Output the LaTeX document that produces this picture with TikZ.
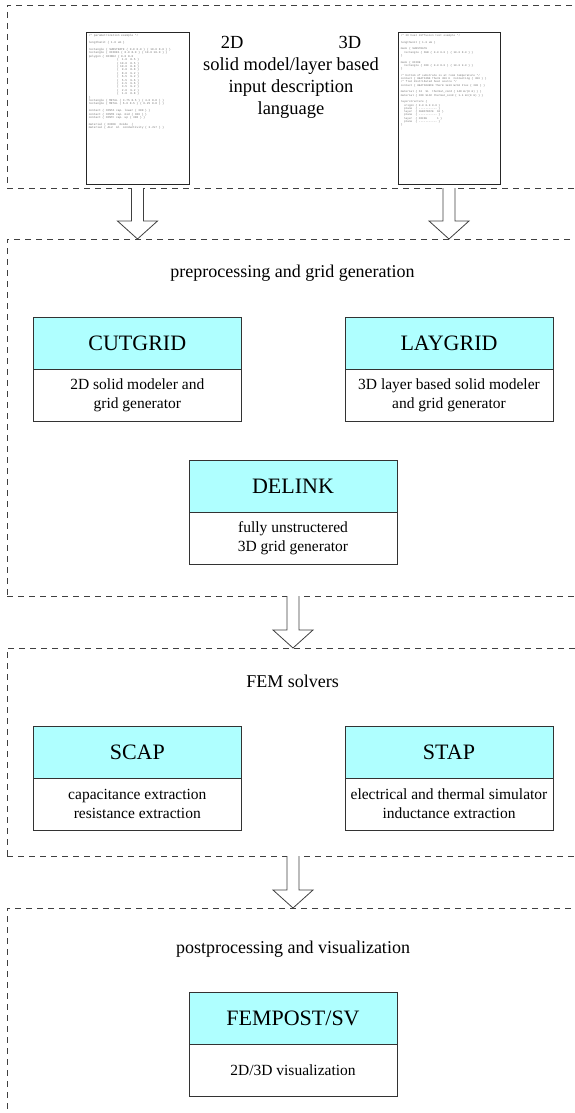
\documentclass[tikz,border=0pt]{standalone}
\usepackage{fontspec}
\setmainfont{Liberation Serif}
\setmonofont{Liberation Mono}
\usetikzlibrary{positioning,calc}
\definecolor{toolcyan}{RGB}{175,255,255}
\newcommand{\colind}{\hspace*{28pt}}
\newcommand{\fatarrow}[2]{\draw[hollow] ($(#1)+(-6,0)$) -- ($(#2)+(-6,-18)$) -- ($(#2)+(-20,-18)$) -- (#2) -- ($(#2)+(20,-18)$) -- ($(#2)+(6,-18)$) -- ($(#1)+(6,0)$);}

\begin{document}
\begin{tikzpicture}[x=1pt,y=-1pt,
stage/.style={draw=black!75,dash pattern=on 6pt off 5pt,line width=0.7pt,minimum width=620pt,anchor=north west,inner sep=0pt,outer sep=0pt},
doc/.style={draw=black!85,fill=white,line width=0.9pt,minimum width=103pt,minimum height=152pt,inner sep=0pt},
srccode/.style={font=\ttfamily\fontsize{2.85}{3.4}\selectfont,text=black!55,align=left,inner sep=0pt},
stagetitle/.style={font=\fontsize{18}{22}\selectfont,inner sep=0pt},
tool/.style={draw=black!80,fill=toolcyan,line width=0.9pt,minimum width=208pt,minimum height=52pt,outer sep=0pt,font=\fontsize{22}{26}\selectfont},
desc/.style={draw=black!80,fill=white,line width=0.9pt,minimum width=208pt,minimum height=52pt,outer sep=0pt,align=center,font=\fontsize{15.5}{19}\selectfont},
hollow/.style={draw=black!75,fill=white,line width=0.8pt,line join=miter}]
\useasboundingbox (0,0) rectangle (575,1113);
\clip (0,0) rectangle (575,1113);
% stages
\node[stage,minimum height=183pt] (input) at (7,5) {};
\node[stage,minimum height=357pt] (prep) at (7,239) {};
\node[stage,minimum height=208pt] (fem) at (7,648) {};
\node[stage,minimum height=292pt] (post) at (7,908) {};
% input description
\node[doc] (src2d) at (137.5,108) {};
\node[srccode,below right=3pt and 3pt of src2d.north west] (src2dtext) {/* parametrization example */\\[3.4pt]
lengthunit \{ 1.0 um \}\\[3.4pt]
rectangle \{ SUBSTRATE \{ 0.0 0.0 \} \{ 10.0 8.0 \} \}\\
rectangle \{ OXIDE1 \{ 0.0 8.0 \} \{ 10.0 10.0 \} \}\\
polygon \{ OXIDE2 \{ 0.0 8.0\\
\colind\{ \ 1.0 \ 8.5 \}\\ \colind\{ 10.0 \ 8.5 \}\\ \colind\{ 10.0 \ 8.8 \}\\
\colind\{ \ 9.0 \ 8.8 \}\\ \colind\{ \ 8.0 \ 9.2 \}\\ \colind\{ \ 6.5 \ 9.2 \}\\
\colind\{ \ 5.5 \ 9.6 \}\\ \colind\{ \ 4.5 \ 9.6 \}\\ \colind\{ \ 3.5 \ 9.2 \}\\
\colind\{ \ 2.0 \ 9.2 \}\\ \colind\{ \ 1.0 \ 8.8 \}\\
\}\\
rectangle \{ METAL \{ 3.75 8.5 \} \{ 4.0 8.8 \} \}\\
rectangle \{ METAL \{ 6.0 8.5 \} \{ 6.25 8.8 \} \}\\[3.4pt]
contact \{ CONTA cap. lower \{ 300 \} \}\\
contact \{ CONTB cap. mid \{ 300 \} \}\\
contact \{ CONTC cap. up \{ 300 \} \}\\[3.4pt]
material \{ OXIDE \ Oxide \ \{\\
material \{ ALU \ Al \ conductivity \{ 3.7e7 \} \}};
\node[doc,minimum width=102pt] (src3d) at (449,108) {};
\node[srccode,font=\ttfamily\fontsize{2.75}{3.3}\selectfont,below right=3pt and 3pt of src3d.north west] (src3dtext) {/* 3D heat diffusion test example */\\[3.3pt]
lengthunit \{ 1.0 um \}\\[3.3pt]
mask \{ SUBSTRATE\\
\ \ rectangle \{ SUB \{ 0.0 0.0 \} \{ 10.0 8.0 \} \}\\
\}\\[3.3pt]
mask \{ OXIDE\\
\ \ rectangle \{ OXD \{ 0.0 8.0 \} \{ 10.0 9.0 \} \}\\
\}\\[3.3pt]
/* bottom of substrate is at room temperature */\\
contact \{ HEATSINK Therm 300 K \ Contacting \{ 300 \} \}\\
/* flat distributed heat source */\\
contact \{ HEATSOURCE Therm 1e10 W/m2 Flux \{ 300 \} \}\\[3.3pt]
material \{ SI \ Si \ thermal\_cond \{ 148 W/(K m) \} \}\\
material \{ OXD SiO2 thermal\_cond \{ 1.4 W/(K m) \} \}\\[3.3pt]
layerstructure \{\\
\ \ origin \{ 0.0 0.0 0.0 \}\\
\ \ plane \ \{ ----------- \}\\
\ \ layer \ \{ SUBSTRATE \ 10 \}\\
\ \ plane \ \{ ----------- \}\\
\ \ layer \ \{ OXIDE \ \ \ \ \ 1 \}\\
\ \ plane \ \{ ----------- \}\\
\}};
\node[align=center,font=\fontsize{18.5}{22}\selectfont,inner sep=0pt] (lang) at (291,77) {2D\hspace{95pt}3D\\solid model/layer based\\input description\\language};
% preprocessing
\node[stagetitle] (preptitle) at (292.5,273) {preprocessing and grid generation};
\node[tool] (cutgrid) at (137.3,343) {CUTGRID};
\node[desc,below=0pt of cutgrid] (cutgridd) {2D solid modeler and\\grid generator};
\node[tool] (laygrid) at (449,343) {LAYGRID};
\node[desc,below=0pt of laygrid] (laygridd) {3D layer based solid modeler\\and grid generator};
\node[tool] (delink) at (293,486) {DELINK};
\node[desc,below=0pt of delink] (delinkd) {fully unstructered\\3D grid generator};
% solvers
\node[stagetitle] (femtitle) at (292.5,681) {FEM solvers};
\node[tool] (scap) at (137.3,752) {SCAP};
\node[desc,below=0pt of scap] (scapd) {capacitance extraction\\resistance extraction};
\node[tool] (stap) at (449,752) {STAP};
\node[desc,below=0pt of stap] (stapd) {electrical and thermal simulator\\inductance extraction};
% postprocessing
\node[stagetitle] (posttitle) at (293,949) {postprocessing and visualization};
\node[tool] (fempost) at (293,1018) {FEMPOST/SV};
\node[desc,below=0pt of fempost] (fempostd) {2D/3D visualization};
% flow
\fatarrow{src2d |- input.south}{src2d |- prep.north}
\fatarrow{src3d |- input.south}{src3d |- prep.north}
\fatarrow{delink |- prep.south}{delink |- fem.north}
\fatarrow{delink |- fem.south}{delink |- post.north}
\end{tikzpicture}
\end{document}
